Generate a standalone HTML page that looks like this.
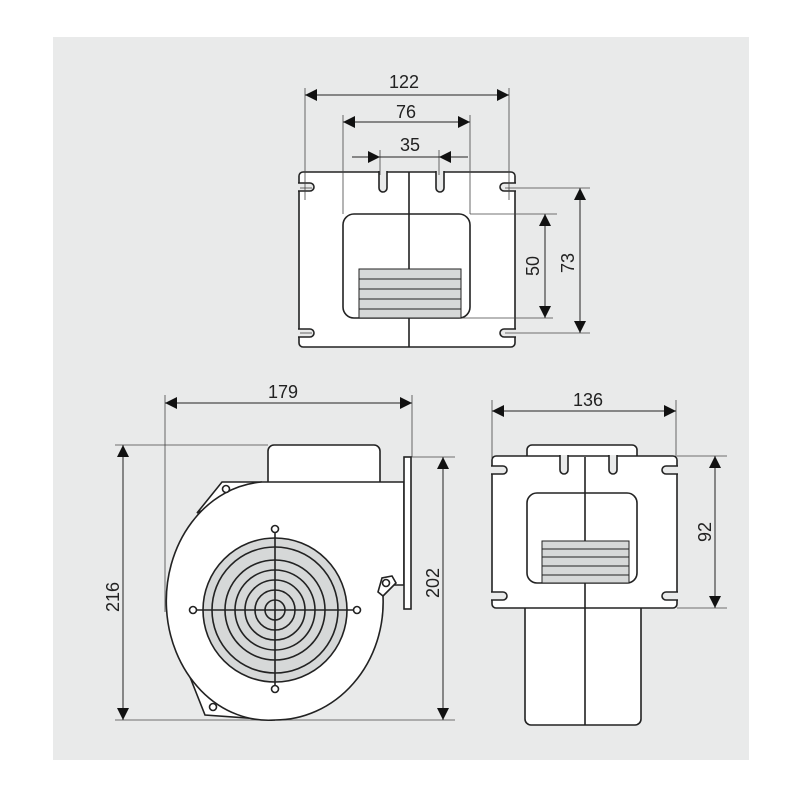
<!DOCTYPE html>
<html><head><meta charset="utf-8"><style>
html,body{margin:0;padding:0;background:#fff;}
svg{display:block;}
text{font-family:"Liberation Sans",sans-serif;font-size:18px;fill:#222;}
</style></head><body>
<svg width="800" height="800" viewBox="0 0 800 800" xmlns="http://www.w3.org/2000/svg">
<defs>
<marker id="a" viewBox="0 0 10 10" refX="10" refY="5" markerWidth="22" markerHeight="12" markerUnits="userSpaceOnUse" orient="auto-start-reverse"><path d="M0,0 L10,5 L0,10z" fill="#111"/></marker>
</defs>
<rect x="53" y="37" width="696" height="723" fill="#e9eaea"/>
<g stroke="#222" stroke-width="1.6" fill="none">
<!-- TOP VIEW -->
<rect x="299" y="172" width="216" height="175" rx="4" fill="#fff"/>
<g fill="#e9eaea">
<path d="M298,183 h12 a4,4 0 0 1 0,8 h-12"/>
<path d="M298,329 h12 a4,4 0 0 1 0,8 h-12"/>
<path d="M516,183 h-12 a4,4 0 0 0 0,8 h12"/>
<path d="M516,329 h-12 a4,4 0 0 0 0,8 h12"/>
<path d="M379,171 v17 a4,4 0 0 0 8,0 v-17"/>
<path d="M436,171 v17 a4,4 0 0 0 8,0 v-17"/>
</g>
<rect x="343" y="214" width="127" height="104" rx="11" fill="#fff"/>
<rect x="359" y="269" width="102" height="49" fill="#d6d8d8" stroke-width="1"/>
<g stroke-width="1"><line x1="359" y1="279" x2="461" y2="279"/><line x1="359" y1="289" x2="461" y2="289"/><line x1="359" y1="299" x2="461" y2="299"/><line x1="359" y1="309" x2="461" y2="309"/></g>
<line x1="409" y1="172" x2="409" y2="269"/><line x1="409" y1="318" x2="409" y2="347"/>
<g stroke-width="0.8" stroke="#444">
<line x1="305" y1="88" x2="305" y2="200"/><line x1="509" y1="88" x2="509" y2="200"/>
<line x1="343" y1="115" x2="343" y2="214"/><line x1="470" y1="115" x2="470" y2="214"/>
<line x1="380" y1="150" x2="380" y2="175"/><line x1="439" y1="150" x2="439" y2="175"/>
<line x1="470" y1="214" x2="557" y2="214"/><line x1="462" y1="318" x2="553" y2="318"/>
<line x1="505" y1="188" x2="590" y2="188"/><line x1="505" y1="333" x2="590" y2="333"/>
<line x1="300" y1="188" x2="312" y2="188"/><line x1="300" y1="333" x2="312" y2="333"/>
</g>
<line x1="305" y1="95" x2="509" y2="95" stroke-width="1" marker-start="url(#a)" marker-end="url(#a)"/>
<line x1="343" y1="122" x2="470" y2="122" stroke-width="1" marker-start="url(#a)" marker-end="url(#a)"/>
<line x1="352" y1="157" x2="380" y2="157" stroke-width="1" marker-end="url(#a)"/>
<line x1="468" y1="157" x2="439" y2="157" stroke-width="1" marker-end="url(#a)"/>
<line x1="380" y1="157" x2="439" y2="157" stroke-width="1"/>
<line x1="545" y1="214" x2="545" y2="318" stroke-width="1" marker-start="url(#a)" marker-end="url(#a)"/>
<line x1="580" y1="188" x2="580" y2="333" stroke-width="1" marker-start="url(#a)" marker-end="url(#a)"/>

<!-- SIDE VIEW -->
<g stroke-width="0.8" stroke="#444">
<line x1="165" y1="395" x2="165" y2="612"/><line x1="412" y1="395" x2="412" y2="457"/>
<line x1="115" y1="445" x2="268" y2="445"/><line x1="115" y1="720" x2="455" y2="720"/>
<line x1="410" y1="457" x2="455" y2="457"/>
</g>
<line x1="165" y1="403" x2="412" y2="403" stroke-width="1" marker-start="url(#a)" marker-end="url(#a)"/>
<line x1="123" y1="445" x2="123" y2="720" stroke-width="1" marker-start="url(#a)" marker-end="url(#a)"/>
<line x1="443" y1="457" x2="443" y2="720" stroke-width="1" marker-start="url(#a)" marker-end="url(#a)"/>
<path d="M268,482 V451 a6,6 0 0 1 6,-6 H374 a6,6 0 0 1 6,6 V482" fill="#fff"/>
<path d="M222,482 L262,482 L197,513 Z" fill="#fff"/>
<path d="M188,672 L205,715 L275,720 L230,700 Z" fill="#fff"/>
<path d="M404,482 H262 A102,119 0 0 0 275,720 A108,118 0 0 0 383,596 L390,585 L404,585 Z" fill="#fff"/>
<circle cx="226" cy="489" r="3.5" fill="#fff"/>
<circle cx="213" cy="707" r="3.5" fill="#fff"/>
<path d="M383,596 L378,592 L382,578 L392,576 L396,583 Z" fill="#fff"/>
<circle cx="386" cy="583" r="3.5" fill="#fff"/>
<rect x="404" y="457" width="7" height="152" fill="#fff"/>
<circle cx="275" cy="610" r="72" fill="#d6d8d8"/>
<circle cx="275" cy="610" r="63"/><circle cx="275" cy="610" r="50"/><circle cx="275" cy="610" r="40"/><circle cx="275" cy="610" r="30"/><circle cx="275" cy="610" r="20"/><circle cx="275" cy="610" r="10"/>
<line x1="193" y1="610" x2="357" y2="610"/><line x1="275" y1="529" x2="275" y2="689"/>
<circle cx="193" cy="610" r="3.5" fill="#fff"/><circle cx="357" cy="610" r="3.5" fill="#fff"/>
<circle cx="275" cy="529" r="3.5" fill="#fff"/><circle cx="275" cy="689" r="3.5" fill="#fff"/>

<!-- FRONT VIEW -->
<g stroke-width="0.8" stroke="#444">
<line x1="492" y1="400" x2="492" y2="458"/><line x1="676" y1="400" x2="676" y2="458"/>
<line x1="677" y1="456" x2="727" y2="456"/><line x1="677" y1="608" x2="727" y2="608"/>
</g>
<line x1="492" y1="411" x2="676" y2="411" stroke-width="1" marker-start="url(#a)" marker-end="url(#a)"/>
<line x1="715" y1="456" x2="715" y2="608" stroke-width="1" marker-start="url(#a)" marker-end="url(#a)"/>
<path d="M527,456 V450 a5,5 0 0 1 5,-5 H632 a5,5 0 0 1 5,5 V456" fill="#fff"/>
<path d="M525,608 V719 a6,6 0 0 0 6,6 H635 a6,6 0 0 0 6,-6 V608" fill="#fff"/>
<rect x="492" y="456" width="185" height="152" rx="4" fill="#fff"/>
<g fill="#e9eaea">
<path d="M491,466 h12 a4,4 0 0 1 0,8 h-12"/>
<path d="M491,592 h12 a4,4 0 0 1 0,8 h-12"/>
<path d="M678,466 h-12 a4,4 0 0 0 0,8 h12"/>
<path d="M678,592 h-12 a4,4 0 0 0 0,8 h12"/>
<path d="M560,455 v15 a4,4 0 0 0 8,0 v-15"/>
<path d="M609,455 v15 a4,4 0 0 0 8,0 v-15"/>
</g>
<rect x="527" y="493" width="110" height="90" rx="10" fill="#fff"/>
<rect x="542" y="541" width="87" height="42" fill="#d6d8d8" stroke-width="1"/>
<g stroke-width="1"><line x1="542" y1="549" x2="629" y2="549"/><line x1="542" y1="557" x2="629" y2="557"/><line x1="542" y1="566" x2="629" y2="566"/><line x1="542" y1="575" x2="629" y2="575"/></g>
<line x1="585" y1="457" x2="585" y2="541"/><line x1="585" y1="583" x2="585" y2="725"/>
</g>
<text x="404" y="88" text-anchor="middle">122</text>
<text x="406" y="118" text-anchor="middle">76</text>
<text x="410" y="151" text-anchor="middle">35</text>
<text transform="translate(539,266) rotate(-90)" text-anchor="middle">50</text>
<text transform="translate(574,263) rotate(-90)" text-anchor="middle">73</text>
<text x="283" y="398" text-anchor="middle">179</text>
<text transform="translate(119,597) rotate(-90)" text-anchor="middle">216</text>
<text transform="translate(439,583) rotate(-90)" text-anchor="middle">202</text>
<text x="588" y="406" text-anchor="middle">136</text>
<text transform="translate(711,532) rotate(-90)" text-anchor="middle">92</text>
</svg>
</body></html>
